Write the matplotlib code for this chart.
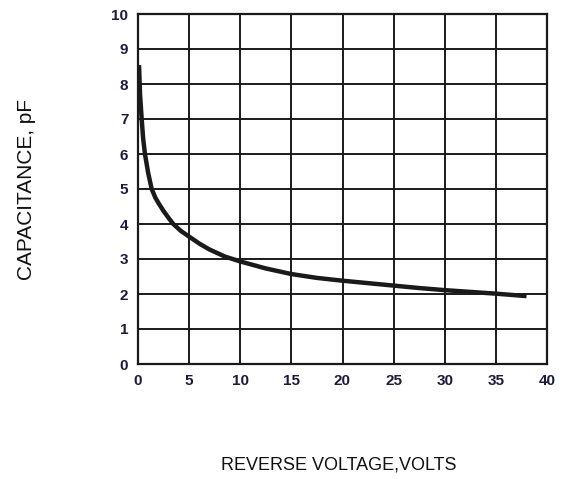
import numpy as np
import matplotlib
matplotlib.use("Agg")
import matplotlib.pyplot as plt

# reverse voltage (V) vs junction capacitance (pF)
volts = [0.1, 0.2, 0.36, 0.5, 0.68, 1.0, 1.34, 1.7, 2.0, 2.5, 3.0, 3.45, 4.2, 5.0, 6.0, 7.0,
         8.5, 10.0, 12.5, 15.0, 17.5, 20.0, 22.5, 25.0, 27.5, 30.0, 32.5, 35.0, 38.0]
cap_pf = [8.54, 7.7, 7.0, 6.45, 6.0, 5.45, 5.0, 4.75, 4.6, 4.37, 4.17, 4.0, 3.8, 3.64, 3.44, 3.27,
          3.07, 2.93, 2.73, 2.57, 2.46, 2.38, 2.31, 2.24, 2.17, 2.11, 2.06, 2.01, 1.94]

xticks = [0, 5, 10, 15, 20, 25, 30, 35, 40]
yticks = list(range(0, 11))

plt.rcParams['font.family'] = ['Liberation Sans', 'DejaVu Sans']

fig = plt.figure(figsize=(5.71, 4.79), dpi=100)
ax = fig.add_axes([138/571, 1 - 364/479, (547-138)/571, (364-14)/479])

ax.plot(volts, cap_pf, color='#1a1a1a', lw=3.2, solid_capstyle='butt',
        solid_joinstyle='round', zorder=3)

ax.set_xlim(0, 40)
ax.set_ylim(0, 10)
ax.set_xticks(xticks)
ax.set_yticks(yticks)
ax.grid(True, color='#1a1a1a', lw=1.4)
ax.set_axisbelow(True)
for sp in ax.spines.values():
    sp.set_color('#1a1a1a')
    sp.set_linewidth(1.6)

ax.tick_params(length=0, pad=7, labelsize=11, labelcolor='#1c1c3a')
for lab in ax.get_xticklabels() + ax.get_yticklabels():
    lab.set_fontweight('bold')

fig.text(27/571, 1 - 189/479, 'CAPACITANCE, pF', rotation=90, ha='center', va='center',
         fontsize=15, color='#111111')
fig.text(339/571, 1 - 465/479, 'REVERSE VOLTAGE,VOLTS', ha='center', va='center',
         fontsize=13, color='#111111')

fig.savefig('out.png', dpi=100)
